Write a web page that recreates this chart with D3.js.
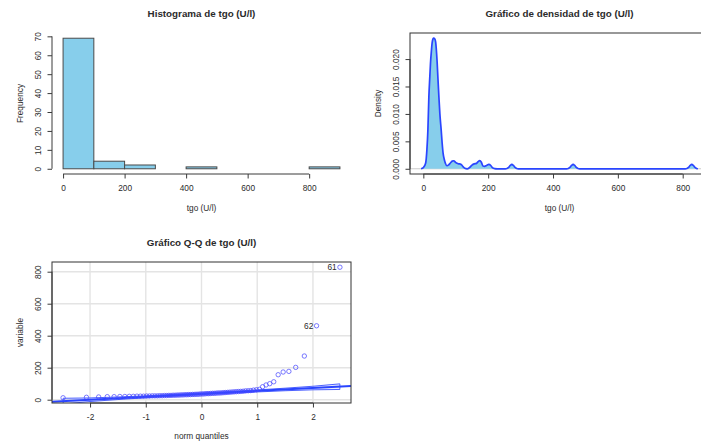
<!DOCTYPE html>
<html>
<head>
<meta charset="utf-8">
<script src="https://cdn.jsdelivr.net/npm/d3@7"></script>
<style>
  body { margin: 0; background: #fff; }
  svg { display: block; }
  text { font-family: "Liberation Sans", Arial, Helvetica, sans-serif; fill: #2b2b2b; }
</style>
</head>
<body>
<svg id="chart" width="701" height="443"></svg>
<script>
// ---- data -----------------------------------------------------------------
// tgo (U/l) observations, sorted ascending (n = 77)
const tgoSorted = [
  12, 15, 17, 19, 19, 20, 20, 21, 21, 22,
  22, 22, 23, 23, 24, 24, 24, 25, 25, 26,
  26, 27, 27, 28, 28, 29, 29, 30, 30, 31,
  31, 32, 32, 33, 33, 34, 34, 35, 36, 36,
  37, 38, 38, 39, 40, 40, 41, 42, 42, 43,
  44, 45, 46, 47, 48, 49, 50, 51, 52, 53,
  55, 56, 57, 60, 62, 65, 81, 92, 100, 112,
  156, 173, 177, 202, 273, 462, 828
];
// observation numbers shown next to the two largest values
const outlierIds = ["62", "61"];

// histogram bins and counts
const histBreaks = [0, 100, 200, 300, 400, 500, 600, 700, 800, 900];
const histCounts = [69, 4, 2, 0, 1, 0, 0, 0, 1];
const histXTicks = [0, 200, 400, 600, 800];
const histYTicks = [0, 10, 20, 30, 40, 50, 60, 70];

// kernel density estimate of tgo
const densityX = [
  -7, 0, 7, 11, 14, 17, 20, 22, 25, 27, 30, 32, 35, 38, 40, 42.5, 45, 48, 51, 55,
  58, 61, 65, 68, 73, 78, 84, 89, 94, 99, 104, 109, 114, 118, 123, 128, 135, 142,
  150, 157, 164, 169, 174, 179, 184, 189, 195, 202, 208, 213, 220, 228,
  253, 258, 263, 268, 273, 278, 283, 288, 293,
  442, 447, 452, 457, 462, 467, 472, 477, 482,
  808, 813, 818, 823, 828, 833, 838, 843, 847
];
const densityY = [
  0, 0.0002, 0.0010, 0.0035, 0.0070, 0.0131, 0.0168, 0.0192, 0.0216, 0.0229, 0.0237, 0.0238,
  0.0237, 0.0231, 0.0218, 0.0195, 0.0165, 0.0131, 0.0100, 0.0071,
  0.0047, 0.0028, 0.0016, 0.0010, 0.00055, 0.0007, 0.0011, 0.0014, 0.00146, 0.0012, 0.00099,
  0.0009, 0.00086, 0.0007, 0.00036, 0.0001, 0.0, 0.0002,
  0.00067, 0.0009, 0.00099, 0.0013, 0.0015, 0.0012, 0.0005, 0.00045, 0.0006, 0.0008, 0.0006,
  0.0002, 0.00003, 0,
  0, 0.00006, 0.00025, 0.0006, 0.0008, 0.0006, 0.00025, 0.00006, 0,
  0, 0.00006, 0.00025, 0.0006, 0.0008, 0.0006, 0.00025, 0.00006, 0,
  0, 0.00006, 0.00025, 0.0006, 0.0008, 0.0006, 0.00025, 0.00006, 0
];
const densXTicks = [0, 200, 400, 600, 800];
const densYTicks = [0, 0.005, 0.010, 0.015, 0.020];

// Q-Q reference line and 95% envelope
const qqLineIntercept = 36.4;
const qqLineSlope = 18.3;
const envZ = [-2.483, -2, -1.5, -1, -0.5, 0, 0.5, 1, 1.5, 2, 2.483];
const envUpper = [9, 11, 17, 24, 33, 41.5, 51, 61, 72, 84, 99];
const envLower = [-27, -11.5, 1, 12, 22, 31.3, 40, 48.5, 56, 61.7, 64];
const qqXTicks = [-2, -1, 0, 1, 2];
const qqYTicks = [0, 200, 400, 600, 800];

// ---- helpers ----------------------------------------------------------------
// inverse standard normal CDF (Acklam's rational approximation)
function qnorm(p) {
  const a = [-3.969683028665376e+01, 2.209460984245205e+02, -2.759285104469687e+02,
             1.383577518672690e+02, -3.066479806614716e+01, 2.506628277459239e+00];
  const b = [-5.447609879822406e+01, 1.615858368580409e+02, -1.556989798598866e+02,
             6.680131188771972e+01, -1.328068155288572e+01];
  const c = [-7.784894002430293e-03, -3.223964580411365e-01, -2.400758277161838e+00,
             -2.549732539343734e+00, 4.374664141464968e+00, 2.938163982698783e+00];
  const d = [7.784695709041462e-03, 3.224671290700398e-01, 2.445134137142996e+00,
             3.754408661907416e+00];
  const pl = 0.02425;
  if (p < pl) {
    const q = Math.sqrt(-2 * Math.log(p));
    return (((((c[0]*q+c[1])*q+c[2])*q+c[3])*q+c[4])*q+c[5]) / ((((d[0]*q+d[1])*q+d[2])*q+d[3])*q+1);
  }
  if (p <= 1 - pl) {
    const q = p - 0.5, r = q * q;
    return (((((a[0]*r+a[1])*r+a[2])*r+a[3])*r+a[4])*r+a[5])*q / (((((b[0]*r+b[1])*r+b[2])*r+b[3])*r+b[4])*r+1);
  }
  const q = Math.sqrt(-2 * Math.log(1 - p));
  return -(((((c[0]*q+c[1])*q+c[2])*q+c[3])*q+c[4])*q+c[5]) / ((((d[0]*q+d[1])*q+d[2])*q+d[3])*q+1);
}

// base-graphics style 4% axis expansion
const pad = ([lo, hi]) => { const r = hi - lo; return [lo - 0.04 * r, hi + 0.04 * r]; };

const svg = d3.select("#chart");
const FS = 8.3;          // tick / axis title size
const TITLE_FS = 9.8;    // main title size
const INK = "#3a3a3a";

// plot regions
const panels = {
  hist: { x0: 52,  x1: 351, y0: 33,  y1: 174 },
  dens: { x0: 410, x1: 709, y0: 33,  y1: 174 },
  qq:   { x0: 52,  x1: 351, y0: 262, y1: 403 }
};

function bottomAxis(g, scale, ticks, yPos) {
  const ax = g.append("g").attr("transform", `translate(0,${yPos})`)
    .call(d3.axisBottom(scale).tickValues(ticks).tickSize(4.5).tickSizeOuter(0)
      .tickFormat(d => d3.format("")(d).replace("-", "-")));
  ax.select(".domain").remove();
  ax.append("line")
    .attr("x1", scale(ticks[0])).attr("x2", scale(ticks[ticks.length - 1]))
    .attr("stroke", INK).attr("stroke-width", 1);
  ax.selectAll(".tick line").attr("stroke", INK);
  ax.selectAll(".tick text").attr("y", 17).attr("dy", null)
    .style("font-size", FS + "px").style("font-family", null).attr("fill", "#2b2b2b");
  ax.attr("font-family", null).attr("font-size", null);
}

function leftAxis(g, scale, ticks, xPos, fmt) {
  const ax = g.append("g").attr("transform", `translate(${xPos},0)`)
    .call(d3.axisLeft(scale).tickValues(ticks).tickSize(4.5).tickSizeOuter(0).tickFormat(fmt));
  ax.select(".domain").remove();
  ax.append("line")
    .attr("y1", scale(ticks[0])).attr("y2", scale(ticks[ticks.length - 1]))
    .attr("stroke", INK).attr("stroke-width", 1);
  ax.selectAll(".tick line").attr("stroke", INK);
  ax.selectAll(".tick text")
    .attr("x", null).attr("y", null).attr("dy", "0.35em")
    .attr("text-anchor", "middle")
    .attr("transform", "translate(-13.7,0) rotate(-90)")
    .style("font-size", FS + "px").attr("fill", "#2b2b2b");
  ax.attr("font-family", null).attr("font-size", null);
}

function titles(p, main, xlab, ylab, mainY, xlabY) {
  const cx = (p.x0 + p.x1) / 2, cy = (p.y0 + p.y1) / 2;
  svg.append("text").attr("x", cx).attr("y", mainY).attr("text-anchor", "middle")
    .style("font-size", TITLE_FS + "px").style("font-weight", "bold").text(main);
  svg.append("text").attr("x", cx).attr("y", xlabY).attr("text-anchor", "middle")
    .style("font-size", FS + "px").text(xlab);
  svg.append("text").attr("transform", `translate(${p.x0 - 32},${cy}) rotate(-90)`)
    .attr("dy", "0.35em").attr("text-anchor", "middle")
    .style("font-size", FS + "px").text(ylab);
}

// ---- histogram -----------------------------------------------------------------
{
  const p = panels.hist;
  const x = d3.scaleLinear().domain(pad([histBreaks[0], histBreaks[histBreaks.length - 1]])).range([p.x0, p.x1]);
  const y = d3.scaleLinear().domain(pad([0, d3.max(histCounts)])).range([p.y1, p.y0]);
  const g = svg.append("g");
  g.selectAll("rect.bar").data(histCounts).join("rect").attr("class", "bar")
    .attr("x", (d, i) => x(histBreaks[i]))
    .attr("width", (d, i) => x(histBreaks[i + 1]) - x(histBreaks[i]))
    .attr("y", d => y(d))
    .attr("height", d => y(0) - y(d))
    .attr("fill", "#87CEEB").attr("stroke", "#4a4a4a").attr("stroke-width", 1);
  bottomAxis(g, x, histXTicks, p.y1);
  leftAxis(g, y, histYTicks, p.x0, d3.format("d"));
  titles(p, "Histograma de tgo (U/l)", "tgo (U/l)", "Frequency", 17, 211);
}

// ---- density -------------------------------------------------------------------
{
  const p = panels.dens;
  const x = d3.scaleLinear().domain(pad(d3.extent(densityX))).range([p.x0, p.x1]);
  const y = d3.scaleLinear().domain(pad([0, d3.max(densityY)])).range([p.y1, p.y0]);
  const pts = densityX.map((v, i) => [v, densityY[i]]);
  const g = svg.append("g");
  // zero reference line
  g.append("line").attr("x1", p.x0).attr("x2", p.x1).attr("y1", y(0)).attr("y2", y(0))
    .attr("stroke", "#bdbdbd").attr("stroke-width", 0.8);
  g.append("path").datum(pts)
    .attr("d", d3.area().x(d => x(d[0])).y0(y(0)).y1(d => y(d[1])).curve(d3.curveMonotoneX))
    .attr("fill", "#87CEEB");
  g.append("path").datum(pts)
    .attr("d", d3.line().x(d => x(d[0])).y(d => y(d[1])).curve(d3.curveMonotoneX))
    .attr("fill", "none").attr("stroke", "#2a45ff").attr("stroke-width", 1.7);
  g.append("rect").attr("x", p.x0).attr("y", p.y0).attr("width", p.x1 - p.x0).attr("height", p.y1 - p.y0)
    .attr("fill", "none").attr("stroke", "#333").attr("stroke-width", 1);
  bottomAxis(g, x, densXTicks, p.y1);
  leftAxis(g, y, densYTicks, p.x0, d3.format(".3f"));
  titles(p, "Gráfico de densidad de tgo (U/l)", "tgo (U/l)", "Density", 17, 211);
}

// ---- normal Q-Q plot -------------------------------------------------------------
{
  const p = panels.qq;
  const n = tgoSorted.length;
  const theo = tgoSorted.map((v, i) => qnorm((i + 1 - 0.5) / n));
  const x = d3.scaleLinear().domain(pad(d3.extent(theo))).range([p.x0, p.x1]);
  const y = d3.scaleLinear().domain(pad(d3.extent(tgoSorted))).range([p.y1, p.y0]);
  const g = svg.append("g");
  svg.append("clipPath").attr("id", "qqclip").append("rect")
    .attr("x", p.x0).attr("y", p.y0).attr("width", p.x1 - p.x0).attr("height", p.y1 - p.y0);
  const inner = g.append("g").attr("clip-path", "url(#qqclip)");
  // grid
  inner.selectAll("line.gx").data(qqXTicks).join("line")
    .attr("x1", d => x(d)).attr("x2", d => x(d)).attr("y1", p.y0).attr("y2", p.y1)
    .attr("stroke", "#e4e4e4").attr("stroke-width", 1.4);
  inner.selectAll("line.gy").data(qqYTicks).join("line")
    .attr("y1", d => y(d)).attr("y2", d => y(d)).attr("x1", p.x0).attr("x2", p.x1)
    .attr("stroke", "#e4e4e4").attr("stroke-width", 1.4);
  // envelope
  const env = envZ.map((z, i) => [z, envUpper[i]]).concat(envZ.map((z, i) => [z, envLower[i]]).reverse());
  inner.append("path").datum(env)
    .attr("d", d3.line().x(d => x(d[0])).y(d => y(d[1])).curve(d3.curveLinearClosed))
    .attr("fill", "rgba(40,60,255,0.10)").attr("stroke", "#3a50ff").attr("stroke-width", 0.9);
  // reference line
  const xd = x.domain();
  inner.append("line")
    .attr("x1", x(xd[0])).attr("y1", y(qqLineIntercept + qqLineSlope * xd[0]))
    .attr("x2", x(xd[1])).attr("y2", y(qqLineIntercept + qqLineSlope * xd[1]))
    .attr("stroke", "#2a45ff").attr("stroke-width", 2);
  // points
  inner.selectAll("circle").data(tgoSorted).join("circle")
    .attr("cx", (d, i) => x(theo[i])).attr("cy", d => y(d)).attr("r", 2.2)
    .attr("fill", "none").attr("stroke", "rgba(70,70,255,0.8)").attr("stroke-width", 0.9);
  // identified observations
  outlierIds.forEach((id, k) => {
    const i = n - outlierIds.length + k;
    g.append("text").attr("x", x(theo[i]) - 3.2).attr("y", y(tgoSorted[i])).attr("dy", "0.35em")
      .attr("text-anchor", "end").style("font-size", FS + "px").text(id);
  });
  g.append("rect").attr("x", p.x0).attr("y", p.y0).attr("width", p.x1 - p.x0).attr("height", p.y1 - p.y0)
    .attr("fill", "none").attr("stroke", "#333").attr("stroke-width", 1);
  bottomAxis(g, x, qqXTicks, p.y1);
  leftAxis(g, y, qqYTicks, p.x0, d3.format("d"));
  titles(p, "Gráfico Q-Q de tgo (U/l)", "norm quantiles", "variable", 246, 439);
  g.selectAll("text").filter(function () { return this.textContent.startsWith("−"); })
    .text(function () { return this.textContent.replace("−", "-"); });
}
</script>
</body>
</html>
